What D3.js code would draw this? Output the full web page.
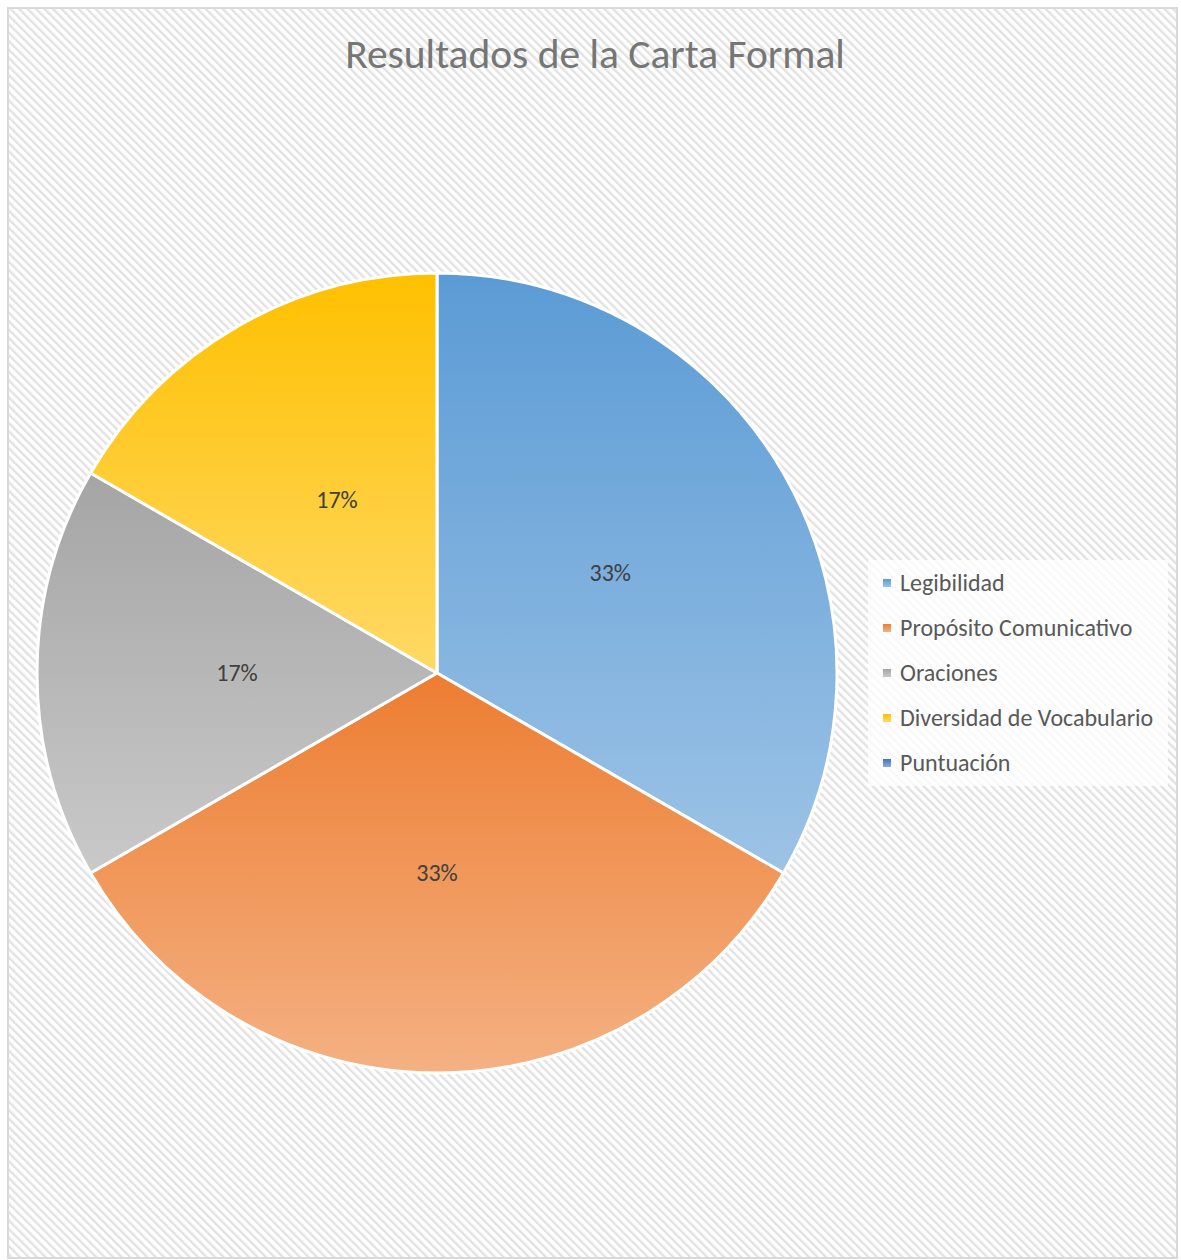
<!DOCTYPE html>
<html>
<head>
<meta charset="utf-8">
<script src="https://cdn.jsdelivr.net/npm/d3@7"></script>
<style>
  body { margin: 0; background: #fff; }
  svg { display: block; }
</style>
</head>
<body>
<script>
const categories = ["Legibilidad", "Propósito Comunicativo", "Oraciones", "Diversidad de Vocabulario", "Puntuación"];
const values = [2, 2, 1, 1, 0];
const topColors = ["#5b9bd5", "#ed7d31", "#a5a5a5", "#ffc000", "#4472c4"];
const bottomColors = ["#9dc3e6", "#f4b183", "#c9c9c9", "#ffd966", "#8faadc"];
const titleText = "Resultados de la Carta Formal";

const width = 1181, height = 1260;
const center = { x: 437, y: 673 };
const radius = 400;
const fontFamily = "Carlito, 'Noto Sans', sans-serif";

let svg = d3.select("body")
    .append("svg")
    .attr("width", width)
    .attr("height", height);

let defs = svg.append("defs");

// diagonal stripe background (top-left to bottom-right)
let pattern = defs.append("pattern")
    .attr("id", "stripes")
    .attr("patternUnits", "userSpaceOnUse")
    .attr("width", 6)
    .attr("height", 6)
    .attr("patternTransform", "rotate(-45)");
pattern.append("rect").attr("width", 6).attr("height", 6).attr("fill", "#ffffff");
pattern.append("rect").attr("width", 2.4).attr("height", 6).attr("fill", "#e2e2e2");

categories.forEach((c, i) => {
    let g = defs.append("linearGradient")
        .attr("id", "grad" + i)
        .attr("x1", 0).attr("y1", 0)
        .attr("x2", 0).attr("y2", 1);
    g.append("stop").attr("offset", "0%").attr("stop-color", topColors[i]);
    g.append("stop").attr("offset", "100%").attr("stop-color", bottomColors[i]);
});

svg.append("rect")
    .attr("x", 8).attr("y", 8)
    .attr("width", width - 12).attr("height", height - 10)
    .attr("fill", "url(#stripes)")
    .attr("stroke", "#d9d9d9")
    .attr("stroke-width", 2);

svg.append("text")
    .text(titleText)
    .attr("x", 595)
    .attr("y", 68)
    .attr("text-anchor", "middle")
    .attr("font-family", fontFamily)
    .attr("font-size", 41.5)
    .attr("fill", "#767676");

let pieData = categories.map((c, i) => ({ name: c, value: values[i], idx: i }));
let pie = d3.pie().sort(null).value(d => d.value);
let arc = d3.arc().innerRadius(0).outerRadius(radius);

let slices = svg.append("g")
    .attr("transform", `translate(${center.x},${center.y})`)
    .selectAll("g")
    .data(pie(pieData).filter(d => d.data.value > 0))
    .enter()
    .append("g");

slices.append("path")
    .attr("d", arc)
    .attr("fill", d => "url(#grad" + d.data.idx + ")")
    .attr("stroke", "#ffffff")
    .attr("stroke-width", 3)
    .attr("stroke-linejoin", "round");

let total = d3.sum(values);
slices.append("text")
    .attr("transform", d => `translate(${arc.centroid(d)})`)
    .attr("dy", "0.35em")
    .attr("text-anchor", "middle")
    .attr("font-family", fontFamily)
    .attr("font-size", 24)
    .attr("fill", "#404040")
    .text(d => Math.round(d.data.value / total * 100) + "%");

// legend
let legend = svg.append("g").attr("transform", "translate(868,560)");
legend.append("rect")
    .attr("width", 300).attr("height", 226)
    .attr("fill", "#ffffff").attr("opacity", 0.75);

let items = legend.selectAll("g.item")
    .data(categories)
    .enter()
    .append("g")
    .attr("class", "item")
    .attr("transform", (d, i) => `translate(0,${23 + i * 45})`);

items.append("rect")
    .attr("x", 15).attr("y", -4)
    .attr("width", 8).attr("height", 8)
    .attr("fill", (d, i) => "url(#grad" + i + ")");

items.append("text")
    .attr("x", 32)
    .attr("dy", "0.35em")
    .attr("font-family", fontFamily)
    .attr("font-size", 24)
    .attr("fill", "#595959")
    .text(d => d);
</script>
</body>
</html>
